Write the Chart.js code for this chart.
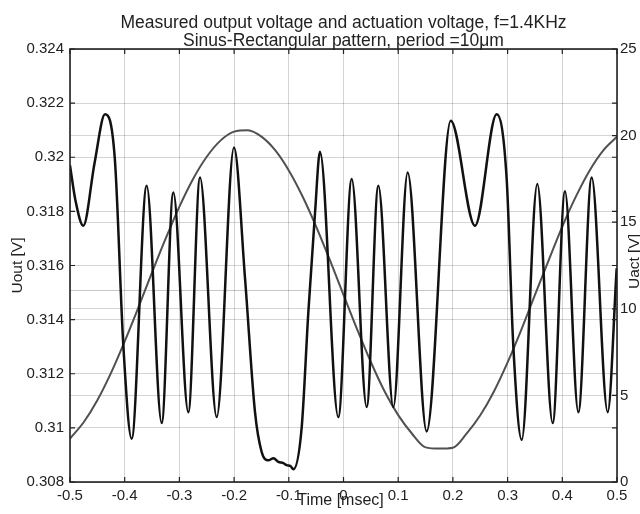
<!DOCTYPE html>
<html>
<head>
<meta charset="utf-8">
<script src="https://cdn.jsdelivr.net/npm/chart.js@4/dist/chart.umd.min.js"></script>
<style>
html,body{margin:0;padding:0;background:#fff;}
#wrap{width:640px;height:514px;position:relative;}
</style>
</head>
<body>
<div id="wrap"><canvas id="c" width="640" height="514"></canvas></div>
<script>
// ---- data ----
const titleLines = ['Measured output voltage and actuation voltage, f=1.4KHz', 'Sinus-Rectangular pattern, period =10\u03bcm'];
const xTitle = 'Time [msec]';
const yLeftTitle = 'Uout [V]';
const yRightTitle = 'Uact [V]';

const xTickLabels = ['-0.5','-0.4','-0.3','-0.2','-0.1','0','0.1','0.2','0.3','0.4','0.5'];
const leftTickLabels = ['0.308','0.31','0.312','0.314','0.316','0.318','0.32','0.322','0.324'];
const rightTickLabels = ['0','5','10','15','20','25'];

// measured output voltage (black), time in msec
const uoutTime = [-0.500,-0.490,-0.4757,-0.455,-0.436,-0.418,-0.4025,-0.3873,-0.3598,-0.3324,-0.3111,-0.2837,-0.2623,-0.2318,-0.2002,-0.180,-0.1618,-0.1496,-0.1374,-0.128,-0.1192,-0.110,-0.1039,-0.0965,-0.0917,-0.0765,-0.0643,-0.052,-0.0430,-0.0095,0.015,0.0424,0.0637,0.0911,0.1173,0.152,0.196,0.2404,0.280,0.2983,0.3104,0.3258,0.3543,0.3824,0.4049,0.4293,0.4537,0.483,0.4994];
const uoutV = [0.31970,0.31840,0.31747,0.31980,0.32159,0.31993,0.31304,0.30960,0.31895,0.31018,0.31870,0.31058,0.31925,0.31040,0.32036,0.31552,0.31058,0.30911,0.30880,0.30888,0.30874,0.30870,0.30862,0.30858,0.30847,0.31000,0.31427,0.31796,0.32020,0.31040,0.31920,0.31077,0.31895,0.31077,0.31944,0.30987,0.32135,0.31747,0.32159,0.31920,0.31304,0.30956,0.31901,0.31018,0.31874,0.31058,0.31925,0.31058,0.31590];

// actuation voltage (grey), right axis
const uactTime = [-0.500,-0.475,-0.450,-0.425,-0.400,-0.375,-0.350,-0.325,-0.300,-0.275,-0.250,-0.225,-0.200,-0.175,-0.150,-0.125,-0.100,-0.075,-0.050,-0.025,0.000,0.025,0.050,0.075,0.100,0.125,0.150,0.175,0.200,0.225,0.250,0.275,0.300,0.325,0.350,0.375,0.400,0.425,0.450,0.475,0.500];
const uactV = [2.51,3.45,4.72,6.30,8.12,10.08,12.10,14.06,15.90,17.50,18.78,19.71,20.23,20.31,19.94,19.16,17.99,16.50,14.75,12.82,10.81,8.81,6.93,5.24,3.86,2.80,2.00,1.93,1.98,2.79,3.85,5.23,6.91,8.79,10.81,12.80,14.75,16.49,17.99,19.15,19.94];

const meanLevel = 11.1; // extra horizontal reference line (right-axis units)

// ---- chart ----
const FONT = '"Liberation Sans", Arial, Helvetica, sans-serif';
const TXT = '#222';

const decor = {
  id: 'decor',
  beforeDatasetsDraw(chart) {
    const {ctx, chartArea: a} = chart;
    const y2 = chart.scales.y2;
    ctx.save();
    ctx.strokeStyle = 'rgba(0,0,0,0.22)';
    ctx.lineWidth = 1;
    const py = Math.round(y2.getPixelForValue(meanLevel)) + 0.5;
    ctx.beginPath(); ctx.moveTo(a.left, py); ctx.lineTo(a.right, py); ctx.stroke();
    ctx.restore();
  },
  afterDraw(chart) {
    const {ctx, chartArea: a} = chart;
    const x = chart.scales.x, y = chart.scales.y, y2 = chart.scales.y2;
    ctx.save();
    // inward ticks
    ctx.strokeStyle = '#222';
    ctx.lineWidth = 1.2;
    const L = 5;
    ctx.beginPath();
    x.ticks.forEach(t => {
      const px = x.getPixelForValue(t.value);
      ctx.moveTo(px, a.bottom); ctx.lineTo(px, a.bottom - L);
      ctx.moveTo(px, a.top); ctx.lineTo(px, a.top + L);
    });
    y.ticks.forEach(t => {
      const py = y.getPixelForValue(t.value);
      ctx.moveTo(a.left, py); ctx.lineTo(a.left + L, py);
      ctx.moveTo(a.right, py); ctx.lineTo(a.right - L, py);
    });
    y2.ticks.forEach(t => {
      const py = y2.getPixelForValue(t.value);
      ctx.moveTo(a.right, py); ctx.lineTo(a.right - L, py);
    });
    ctx.stroke();
    // box
    ctx.lineWidth = 1.6;
    ctx.strokeRect(a.left, a.top, a.right - a.left, a.bottom - a.top);
    // titles
    ctx.fillStyle = TXT;
    ctx.textAlign = 'center';
    ctx.textBaseline = 'alphabetic';
    const cx = (a.left + a.right) / 2;
    ctx.font = '17.5px ' + FONT;
    ctx.fillText(titleLines[0], cx, 28);
    ctx.fillText(titleLines[1], cx, 46);
    ctx.font = '16px ' + FONT;
    ctx.fillText(xTitle, cx - 3, 505);
    ctx.font = '15.5px ' + FONT;
    ctx.textBaseline = 'middle';
    ctx.save();
    ctx.translate(18, (a.top + a.bottom) / 2);
    ctx.rotate(-Math.PI / 2);
    ctx.fillText(yLeftTitle, 0, 0);
    ctx.restore();
    ctx.save();
    ctx.translate(635, (a.top + a.bottom) / 2 - 4);
    ctx.rotate(-Math.PI / 2);
    ctx.fillText(yRightTitle, 0, 0);
    ctx.restore();
    ctx.restore();
  }
};

const gridColor = 'rgba(0,0,0,0.17)';

new Chart(document.getElementById('c'), {
  type: 'line',
  data: {
    datasets: [
      {
        label: 'Uout',
        data: uoutTime.map((t, i) => ({x: t, y: uoutV[i]})),
        yAxisID: 'y',
        borderColor: '#111',
        borderWidth: 2.5,
        pointRadius: 0,
        cubicInterpolationMode: 'monotone',
        fill: false
      },
      {
        label: 'Uact',
        data: uactTime.map((t, i) => ({x: t, y: uactV[i]})),
        yAxisID: 'y2',
        borderColor: '#505050',
        borderWidth: 2,
        pointRadius: 0,
        cubicInterpolationMode: 'monotone',
        fill: false
      }
    ]
  },
  options: {
    responsive: false,
    animation: false,
    events: [],
    layout: {padding: {top: 49, left: 0, right: 0, bottom: 0}},
    plugins: {legend: {display: false}, title: {display: false}, tooltip: {enabled: false}},
    scales: {
      x: {
        type: 'linear', min: -0.5, max: 0.5,
        afterFit(s) { s.height = 32; },
        border: {display: false},
        grid: {color: gridColor, drawTicks: false},
        ticks: {
          stepSize: 0.1, maxRotation: 0, autoSkip: false, padding: 5,
          color: TXT, font: {family: FONT, size: 15},
          callback: (v, i) => xTickLabels[i]
        }
      },
      y: {
        type: 'linear', position: 'left', min: 0.308, max: 0.324,
        afterFit(s) { s.width = 70; },
        border: {display: false},
        grid: {color: gridColor, drawTicks: false},
        ticks: {
          stepSize: 0.002, autoSkip: false, padding: 6,
          color: TXT, font: {family: FONT, size: 15},
          callback: (v, i) => leftTickLabels[i]
        }
      },
      y2: {
        type: 'linear', position: 'right', min: 0, max: 25,
        afterFit(s) { s.width = 23; },
        border: {display: false},
        grid: {color: gridColor, drawTicks: false},
        ticks: {
          stepSize: 5, autoSkip: false, padding: 3,
          color: TXT, font: {family: FONT, size: 15},
          callback: (v, i) => rightTickLabels[i]
        }
      }
    }
  },
  plugins: [decor]
});
</script>
</body>
</html>
